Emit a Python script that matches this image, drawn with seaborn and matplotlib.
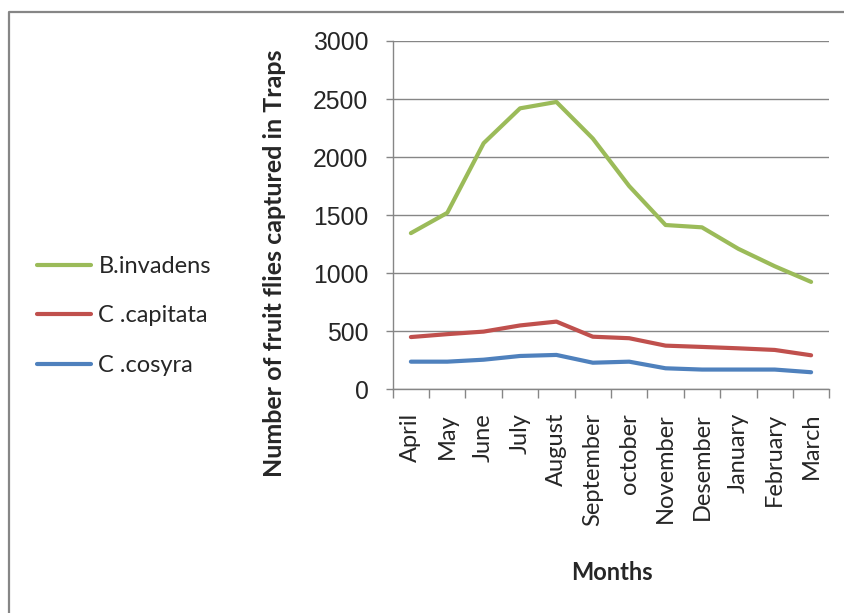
import matplotlib
matplotlib.use("Agg")
import matplotlib.pyplot as plt
from matplotlib.lines import Line2D
import numpy as np
import pandas as pd
import seaborn as sns

months = ["April", "May", "June", "July", "August", "September", "october",
          "November", "Desember", "January", "February", "March"]
b_invadens = [1345, 1520, 2120, 2420, 2475, 2160, 1750, 1415, 1395, 1210, 1060, 925]
c_capitata = [450, 475, 497, 550, 583, 453, 440, 376, 365, 353, 339, 293]
c_cosyra = [238, 238, 255, 287, 296, 229, 238, 181, 170, 170, 170, 147]
species = ["B.invadens", "C .capitata", "C .cosyra"]
colors = ["#9BBB59", "#C0504D", "#4F81BD"]
y_ticks = [0, 500, 1000, 1500, 2000, 2500, 3000]

df = pd.DataFrame({
    "Month": months * 3,
    "Count": b_invadens + c_capitata + c_cosyra,
    "Species": [s for s in species for _ in months],
})

sns.set_theme(style="white")
plt.rcParams["font.family"] = ["Lato", "DejaVu Sans"]

W, H = 845, 613
fig = plt.figure(figsize=(W / 100, H / 100), dpi=100)
ax = fig.add_axes([392.7 / W, 1 - 389.3 / H, (829.3 - 392.7) / W, (389.3 - 41) / H])

sns.lineplot(data=df, x="Month", y="Count", hue="Species", palette=colors,
             linewidth=3.0, sort=False, errorbar=None, ax=ax, legend=False)

grid_c = "#868686"
ax.set_xlim(-0.5, len(months) - 0.5)
ax.set_ylim(0, 3000)
ax.set_yticks(y_ticks)
ax.set_yticklabels([str(v) for v in y_ticks], fontfamily="Liberation Sans", fontsize=17.8)
ax.yaxis.grid(True, color=grid_c, linewidth=1.0)
ax.set_axisbelow(True)
ax.tick_params(axis="y", direction="out", length=5, width=1, color=grid_c, pad=12.5, left=True)

# category boundaries get the tick marks, category centres carry the labels
ax.set_xticks(np.arange(-0.5, len(months), 1.0))
ax.set_xticklabels([])
ax.set_xticks(np.arange(len(months)), minor=True)
ax.set_xticklabels(months, minor=True, rotation=90, fontsize=17, va="top", ha="center")
ax.tick_params(axis="x", which="major", direction="out", length=6.5, width=1, color=grid_c, bottom=True)
ax.tick_params(axis="x", which="minor", length=0, pad=17)

for side in ["top", "right"]:
    ax.spines[side].set_visible(False)
for side in ["left", "bottom"]:
    ax.spines[side].set_color(grid_c)
    ax.spines[side].set_linewidth(1.0)

ax.set_xlabel("")
ax.set_ylabel("")
fig.text(612 / W, 1 - 572 / H, "Months", ha="center", va="center",
         fontsize=17, fontweight="bold")
fig.text(275 / W, 1 - 263 / H, "Number of fruit flies captured in Traps",
         rotation=90, ha="center", va="center", fontsize=18, fontweight="bold")

handles = [Line2D([], [], color=c, linewidth=3.0) for c in colors]
fig.legend(handles, species, loc="center left", bbox_to_anchor=(37 / W, 1 - 316 / H),
           frameon=False, fontsize=17, handlelength=2.3, handletextpad=0.3,
           labelspacing=1.2, borderpad=0, borderaxespad=0)

# chart-area frame
fig.add_artist(Line2D([9 / W, 9 / W, 1.0], [0.0, 1 - 12 / H, 1 - 12 / H],
                      color=grid_c, linewidth=1.6, transform=fig.transFigure))

fig.savefig("out.png", dpi=100)
